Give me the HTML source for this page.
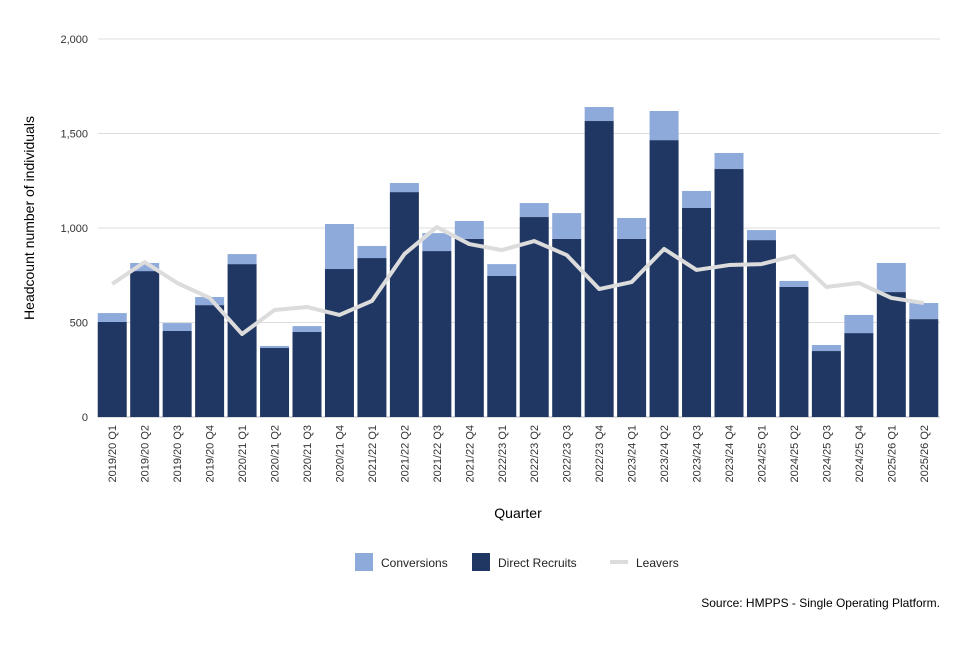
<!DOCTYPE html>
<html><head><meta charset="utf-8"><style>
body{margin:0;background:#fff;font-family:"Liberation Sans",sans-serif}
</style></head><body>
<svg id="chart" width="960" height="640" font-family="Liberation Sans, sans-serif">
<g id="grid"></g><g id="bars"></g><g id="line"></g><g id="axes"></g>
<text x="34" y="218" transform="rotate(-90 34 218)" text-anchor="middle" font-size="14" fill="#000">Headcount number of individuals</text>
<text x="518" y="518" text-anchor="middle" font-size="14" fill="#000">Quarter</text>
<g font-size="12" fill="#222">
<rect x="355" y="553" width="18" height="18" fill="#8eaadb"/>
<text x="381" y="567">Conversions</text>
<rect x="472" y="553" width="18" height="18" fill="#213763"/>
<text x="498" y="567">Direct Recruits</text>
<line x1="610" y1="562" x2="628" y2="562" stroke="#dcdcdc" stroke-width="4"/>
<text x="636" y="567">Leavers</text>
</g>
<text x="940" y="607" text-anchor="end" font-size="12" fill="#000">Source: HMPPS - Single Operating Platform.</text>
</svg>
<script>
const categories=["2019/20 Q1","2019/20 Q2","2019/20 Q3","2019/20 Q4","2020/21 Q1","2020/21 Q2","2020/21 Q3","2020/21 Q4","2021/22 Q1","2021/22 Q2","2021/22 Q3","2021/22 Q4","2022/23 Q1","2022/23 Q2","2022/23 Q3","2022/23 Q4","2023/24 Q1","2023/24 Q2","2023/24 Q3","2023/24 Q4","2024/25 Q1","2024/25 Q2","2024/25 Q3","2024/25 Q4","2025/26 Q1","2025/26 Q2"];
const directRecruits=[503,772,455,592,809,365,450,783,841,1190,878,942,746,1058,942,1566,942,1465,1106,1312,936,688,349,444,661,518];
const conversions=[47,43,42,43,53,11,31,238,64,48,95,95,63,74,137,74,111,154,90,85,53,32,32,96,154,85];
const leavers=[704,820,709,630,439,566,582,540,614,862,1005,915,883,931,857,677,714,889,778,804,809,852,688,709,630,603];
const yTicks=[0,500,1000,1500,2000];
const yTickLabels=["0","500","1,000","1,500","2,000"];
const NS="http://www.w3.org/2000/svg";
const x0=96,x1=940,y0=417,y1=39,yMax=2000;
const step=(x1-x0)/categories.length,bw=29;
const y=v=>y0-(v/yMax)*(y0-y1);
const xc=i=>x0+step*(i+0.5);
function mk(tag,attrs,parent,txt){const e=document.createElementNS(NS,tag);for(const k in attrs)e.setAttribute(k,attrs[k]);if(txt!==undefined)e.textContent=txt;parent.appendChild(e);return e;}
const grid=document.getElementById('grid'),bars=document.getElementById('bars'),line=document.getElementById('line'),axes=document.getElementById('axes');
yTicks.forEach((t,i)=>{
 const g=mk('line',{x1:98,x2:x1,y1:y(t),y2:y(t),stroke:t===0?'#bbb':'#dedede','stroke-width':1},grid);
 
 
 const l=mk('text',{x:88,y:y(t)+4,'text-anchor':'end','font-size':11,fill:'#333'},axes,yTickLabels[i]);
 
 
});
categories.forEach((c,i)=>{
 const cx=xc(i);
 const d=mk('rect',{x:cx-bw/2,y:y(directRecruits[i]),width:bw,height:y0-y(directRecruits[i]),fill:'#213763'},bars);
 
 
 const tot=directRecruits[i]+conversions[i];
 const cv=mk('rect',{x:cx-bw/2,y:y(tot),width:bw,height:y(directRecruits[i])-y(tot),fill:'#8eaadb'},bars);
 
 
 const t=mk('text',{x:0,y:0,transform:`translate(${cx+4},425) rotate(-90)`,'text-anchor':'end','font-size':11,fill:'#333'},axes,c);
 
 
});
const pts=leavers.map((v,i)=>xc(i)+','+y(v)).join(' ');
const pl=mk('polyline',{points:pts,fill:'none',stroke:'#dcdcdc','stroke-width':4,'stroke-linejoin':'round'},line);


</script>
</body></html>
